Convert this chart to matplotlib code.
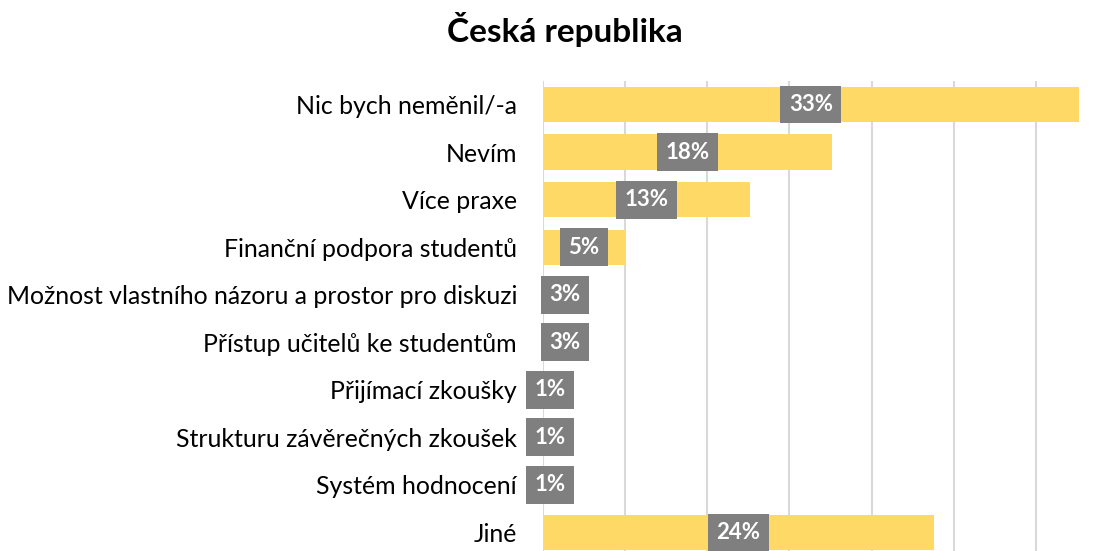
import matplotlib.pyplot as plt
import numpy as np

# Answers (share of respondents, %)
categories = [
    "Nic bych neměnil/-a",
    "Nevím",
    "Více praxe",
    "Finanční podpora studentů",
    "Možnost vlastního názoru a prostor pro diskuzi",
    "Přístup učitelů ke studentům",
    "Přijímací zkoušky",
    "Strukturu závěrečných zkoušek",
    "Systém hodnocení",
    "Jiné",
]
values = [32.6, 17.6, 12.6, 5.0, 2.7, 2.7, 0.9, 0.9, 0.9, 23.8]
grid_ticks = [0, 5, 10, 15, 20, 25, 30]

bar_color = "#FFD966"
box_color = "#7F7F7F"
grid_color = "#D9D9D9"

plt.rcParams['font.family'] = ['Lato', 'DejaVu Sans']

fig = plt.figure(figsize=(11.1, 5.51), dpi=100)
ax = fig.add_axes([0.4889, -0.0096, 0.5111, 0.8631])

y = np.arange(len(categories))
ax.barh(y, values, height=0.74, color=bar_color, zorder=2)

for yi, v in zip(y, values):
    ax.text(v / 2, yi, f"{v:.0f}%", ha='center', va='center',
            fontsize=16, fontweight='bold', color='white', zorder=4,
            bbox=dict(boxstyle='square,pad=0.38', fc=box_color, ec='none'))

ax.set_xlim(0, 34.48)
ax.set_ylim(len(categories) - 0.5, -0.5)
ax.set_xticks(grid_ticks)
ax.xaxis.grid(True, color=grid_color, linewidth=1.5, zorder=0)
ax.set_axisbelow(True)
ax.tick_params(axis='x', length=0, labelbottom=False)
ax.tick_params(axis='y', length=0, pad=18.5, labelsize=17.9)
ax.set_yticks(y)
ax.set_yticklabels(categories)
for s in ax.spines.values():
    s.set_visible(False)

fig.text(0.509, 0.947, "Česká republika", ha='center', va='center',
         fontsize=24, fontweight='bold')

fig.savefig("out.png", dpi=100)
